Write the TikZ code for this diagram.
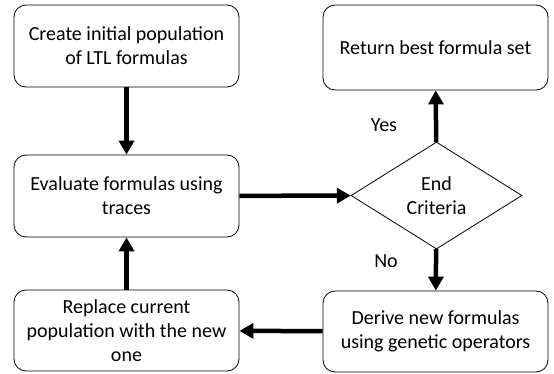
\documentclass[tikz,border=0pt]{standalone}
\usepackage{fontspec}
\setmainfont{Carlito}
\usetikzlibrary{shapes.geometric,arrows.meta}
\tikzset{
  stepbox/.style={draw, rounded corners=12pt, line width=0.8pt, align=center,
    minimum width=225pt, minimum height=82pt, inner sep=0pt},
  decide/.style={draw, shape=diamond, line width=0.8pt, align=center,
    minimum width=171pt, minimum height=107pt, inner sep=0pt},
  flow/.style={line width=4.5pt, -{Triangle[length=14pt,width=15pt]}}
}
\begin{document}
\begin{tikzpicture}[x=1pt, y=-1pt, font=\fontsize{20}{24}\selectfont]
                \useasboundingbox (0, 0) rectangle (554, 374);

                \node (create) at (126.5, 46) [stepbox] {Create initial population\\of LTL formulas};
                \node (evaluate) at (126.5, 196) [stepbox] {Evaluate formulas using\\traces};
                \node (replace) at (126.5, 330.5) [stepbox, minimum height=81pt] {Replace current\\population with the new\\one};
                \node (best) at (435.5, 47.5) [stepbox, minimum height=85pt] {Return best formula set};
                \node (end) at (436.5, 195.5) [decide] {End\\Criteria};
                \node (derive) at (435.5, 331.5) [stepbox, minimum height=81pt] {Derive new formulas\\using genetic operators};

                \draw[flow] (create) -- (evaluate);
                \draw[flow] (evaluate) -- (end);
                \draw[flow] (end) -- (best);
                \draw[flow] (end) -- (derive);
                \draw[flow] (derive) -- (replace);
                \draw[flow] (replace) -- (evaluate);

                \node (yes) at (384, 125) {Yes};
                \node (no) at (386, 261) {No};
            \end{tikzpicture}
\end{document}
